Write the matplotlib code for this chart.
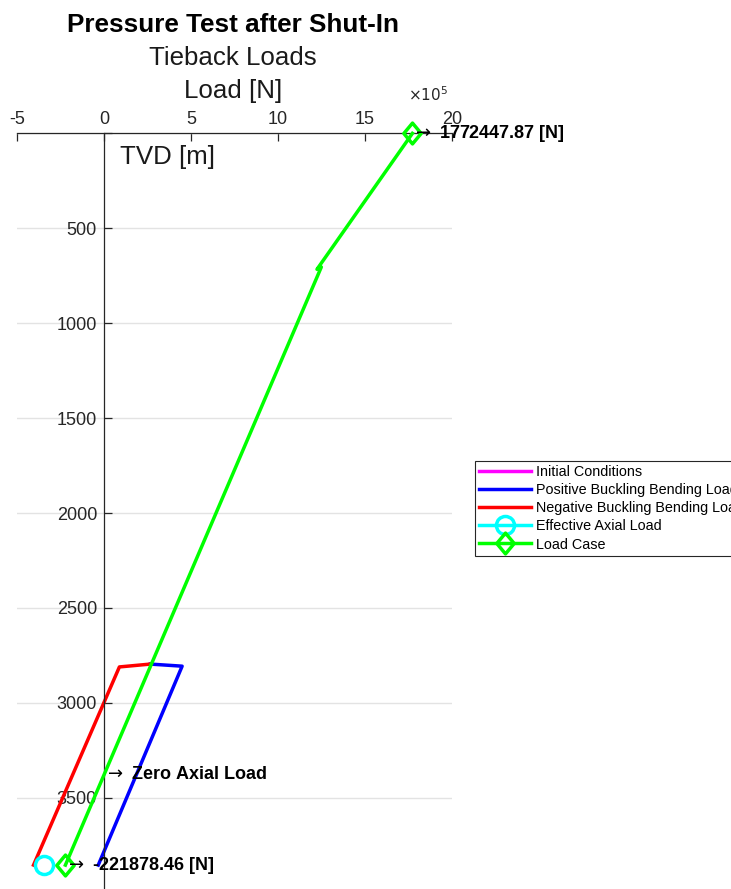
import matplotlib
matplotlib.use("Agg")
import matplotlib.pyplot as plt
from matplotlib.path import Path

plt.rcParams['font.family'] = ['Liberation Sans', 'DejaVu Sans']

# Load profiles along the tieback string (load in N, depth as TVD in m)
initial_load = []
initial_tvd = []

pos_bending_load = [266000, 449000, -33000]
pos_bending_tvd = [2796, 2807, 3855]

neg_bending_load = [-405000, 88500, 266000]
neg_bending_tvd = [3855, 2811, 2796]

effective_axial_load = [-346000]
effective_axial_tvd = [3855]

load_case_load = [1772447.87, 1224000, 1249000, -221878.46]
load_case_tvd = [0, 716, 704, 3855]

zero_axial_tvd = 3378

x_ticks = [-5e5, 0, 5e5, 10e5, 15e5, 20e5]
x_tick_labels = ["-5", "0", "5", "10", "15", "20"]
y_ticks = [0, 500, 1000, 1500, 2000, 2500, 3000, 3500]
y_tick_labels = ["", "500", "1000", "1500", "2000", "2500", "3000", "3500"]

legend_labels = ["Initial Conditions", "Positive Buckling Bending Load",
                 "Negative Buckling Bending Load", "Effective Axial Load",
                 "Load Case"]

# Slightly tall diamond marker
diamond = Path([(0, 1.2), (1, 0), (0, -1.2), (-1, 0), (0, 1.2)],
               [Path.MOVETO, Path.LINETO, Path.LINETO, Path.LINETO,
                Path.CLOSEPOLY])

W, H = 731, 889
fig = plt.figure(figsize=(W / 100, H / 100), dpi=100)
ax = fig.add_axes([17 / W, 0.0, (452 - 17) / W, 1 - 133.4 / H])

ax.set_xlim(-5e5, 20e5)
ax.set_ylim(3981, 0)

ln_init, = ax.plot(initial_load, initial_tvd, color=(1, 0, 1), lw=2.5)
ln_pos, = ax.plot(pos_bending_load, pos_bending_tvd, color=(0, 0, 1), lw=2.5)
ln_neg, = ax.plot(neg_bending_load, neg_bending_tvd, color=(1, 0, 0), lw=2.5)
ln_eff, = ax.plot(effective_axial_load, effective_axial_tvd, color=(0, 1, 1),
                  lw=2.5, marker='o', ms=13, mfc='none', mew=2.5,
                  clip_on=False)
ln_case, = ax.plot(load_case_load, load_case_tvd, color=(0, 1, 0), lw=2.5,
                   marker=diamond, ms=15, mfc='none', mew=2.5,
                   markevery=[0, len(load_case_load) - 1], clip_on=False,
                   zorder=3)

# Axes crossing at the origin, MATLAB style
for side in ('bottom', 'right'):
    ax.spines[side].set_visible(False)
ax.spines['left'].set_position(('data', 0))
for side in ('left', 'top'):
    ax.spines[side].set_linewidth(0.9)
    ax.spines[side].set_color('#262626')
    ax.spines[side].set_zorder(2.5)

ax.xaxis.tick_top()
ax.set_xticks(x_ticks)
ax.set_xticklabels(x_tick_labels)
ax.set_yticks(y_ticks)
ax.set_yticklabels(y_tick_labels)
ax.tick_params(axis='x', direction='in', length=6, width=0.9, pad=4,
               labelsize=13, colors='#262626')
ax.tick_params(axis='y', direction='in', length=6, width=0.9, pad=5,
               labelsize=13, colors='#262626')
ax.yaxis.grid(True, color='#e3e3e3', lw=1.0)
ax.set_axisbelow(True)

# Value annotations
ax.text(load_case_load[0], load_case_tvd[0],
        r"$\rightarrow$" + f" {load_case_load[0]:.2f} [N]",
        fontsize=13, fontweight='bold', ha='left', va='center', clip_on=False,
        zorder=4)
ax.text(0, zero_axial_tvd, r"$\rightarrow$" + " Zero Axial Load",
        fontsize=13, fontweight='bold', ha='left', va='center')
ax.text(load_case_load[-1], load_case_tvd[-1],
        r"$\rightarrow$" + f" {load_case_load[-1]:.2f} [N]",
        fontsize=13, fontweight='bold', ha='left', va='center')

# Titles and axis labels
fig.text(233 / W, 1 - 25 / H, "Pressure Test after Shut-In", fontsize=18.8,
         fontweight='bold', ha='center', va='center')
fig.text(233 / W, 1 - 58 / H, "Tieback Loads", fontsize=18.6,
         ha='center', va='center', color='#1a1a1a')
fig.text(233 / W, 1 - 91 / H, "Load [N]", fontsize=18.6,
         ha='center', va='center', color='#1a1a1a')
fig.text(120 / W, 1 - 157 / H, "TVD [m]", fontsize=18.6,
         ha='left', va='center', color='#1a1a1a')
fig.text(408 / W, 1 - 95 / H, r"$\times10^5$", fontsize=11,
         ha='left', va='center', color='#262626')

leg = fig.legend([ln_init, ln_pos, ln_neg, ln_eff, ln_case], legend_labels,
                 loc='upper left', bbox_to_anchor=(475 / W, 1 - 461 / H),
                 fontsize=10.4, frameon=True, fancybox=False, framealpha=1,
                 edgecolor='#262626', handlelength=3.6, handletextpad=0.3,
                 labelspacing=0.28, borderpad=0.3, borderaxespad=0,
                 numpoints=1)
leg.get_frame().set_linewidth(0.8)

fig.savefig("out.png", dpi=100)
